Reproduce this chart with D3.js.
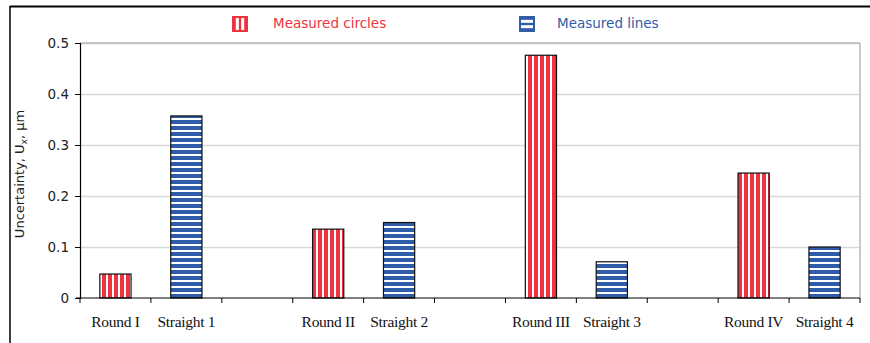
<!DOCTYPE html>
<html>
<head>
<meta charset="utf-8">
<script src="https://cdn.jsdelivr.net/npm/d3@7"></script>
<style>
  html, body { margin: 0; padding: 0; background: #fff; }
  svg { display: block; }
</style>
</head>
<body>
<svg id="chart" width="870" height="343"></svg>
<script>
// Category slots along the x axis (empty strings are spacer slots between groups)
const categories = ["Round I", "Straight 1", "", "Round II", "Straight 2", "",
                    "Round III", "Straight 3", "", "Round IV", "Straight 4"];
// Uncertainty values per slot, in µm
const circleValues = [0.047, null, null, 0.135, null, null, 0.476, null, null, 0.245, null];
const lineValues   = [null, 0.357, null, null, 0.148, null, null, 0.071, null, null, 0.100];
const yTicks = [0, 0.1, 0.2, 0.3, 0.4, 0.5];
const seriesNames = ["Measured circles", "Measured lines"];

const RED = "#ef3340", BLUE = "#2f5ca8";

const svg = d3.select("#chart");
const defs = svg.append("defs");

// vertical red stripes
const pr = defs.append("pattern").attr("id", "stripesV")
  .attr("patternUnits", "userSpaceOnUse").attr("width", 6).attr("height", 6);
pr.append("rect").attr("width", 6).attr("height", 6).attr("fill", "#fff");
pr.append("rect").attr("x", 0).attr("width", 4).attr("height", 6).attr("fill", RED);

// horizontal blue stripes
const pb = defs.append("pattern").attr("id", "stripesH")
  .attr("patternUnits", "userSpaceOnUse").attr("width", 6).attr("height", 6);
pb.append("rect").attr("width", 6).attr("height", 6).attr("fill", "#fff");
pb.append("rect").attr("y", 0).attr("width", 6).attr("height", 4).attr("fill", BLUE);

// outer frame (top and left rules)
svg.append("line").attr("x1", 10).attr("x2", 870).attr("y1", 6.5).attr("y2", 6.5)
  .attr("stroke", "#000").attr("stroke-width", 2);
svg.append("line").attr("x1", 10).attr("x2", 10).attr("y1", 6).attr("y2", 343)
  .attr("stroke", "#000").attr("stroke-width", 1.5);

const plot = { left: 80, right: 860, top: 43, bottom: 298 };

const x = d3.scaleBand().domain(d3.range(categories.length))
  .range([plot.left, plot.right]).paddingInner(0).paddingOuter(0);
const y = d3.scaleLinear().domain([0, 0.5]).range([plot.bottom, plot.top]);

// gridlines
svg.append("g").selectAll("line").data(yTicks.filter(t => t > 0)).join("line")
  .attr("x1", plot.left).attr("x2", plot.right)
  .attr("y1", d => Math.round(y(d)) + 0.5).attr("y2", d => Math.round(y(d)) + 0.5)
  .attr("stroke", "#d8d8d8").attr("stroke-width", 1.5);
// plot area border (top and right)
svg.append("line").attr("x1", plot.right).attr("x2", plot.right)
  .attr("y1", plot.top).attr("y2", plot.bottom)
  .attr("stroke", "#b8b8b8").attr("stroke-width", 1.5);
svg.append("line").attr("x1", plot.left).attr("x2", plot.right)
  .attr("y1", plot.top).attr("y2", plot.top)
  .attr("stroke", "#b8b8b8").attr("stroke-width", 1.5);

const barW = x.bandwidth() * 0.44;

function drawBars(values, fill) {
  const data = values.map((v, i) => ({ i, v })).filter(d => d.v != null);
  svg.append("g").selectAll("rect").data(data).join("rect")
    .attr("x", d => x(d.i) + (x.bandwidth() - barW) / 2)
    .attr("width", barW)
    .attr("y", d => y(d.v))
    .attr("height", d => y(0) - y(d.v))
    .attr("fill", fill)
    .attr("stroke", "#111").attr("stroke-width", 1.2);
}
drawBars(circleValues, "url(#stripesV)");
drawBars(lineValues, "url(#stripesH)");

// y axis
const yAxis = svg.append("g").attr("transform", `translate(${plot.left},0)`)
  .call(d3.axisLeft(y).tickValues(yTicks).tickSize(5).tickPadding(6)
    .tickFormat(d => d === 0 ? "0" : d3.format(".1f")(d)));
yAxis.select(".domain").attr("stroke", "#000").attr("stroke-width", 1.2);
yAxis.selectAll(".tick line").attr("stroke", "#000");
yAxis.selectAll("text").attr("font-family", "DejaVu Sans, sans-serif")
  .attr("font-size", 13.5).attr("fill", "#222");

// x axis with ticks at slot boundaries
const xAxisG = svg.append("g").attr("transform", `translate(0,${plot.bottom})`);
xAxisG.append("line").attr("x1", plot.left - 4).attr("x2", plot.right)
  .attr("stroke", "#000").attr("stroke-width", 1.2);
const bounds = d3.range(categories.length + 1).map(i => i < categories.length ? x(i) : plot.right);
xAxisG.selectAll("line.tk").data(bounds).join("line").attr("class", "tk")
  .attr("x1", d => d).attr("x2", d => d).attr("y1", 0).attr("y2", 5)
  .attr("stroke", "#000");
xAxisG.selectAll("text").data(categories.map((c, i) => ({ c, i })).filter(d => d.c))
  .join("text")
  .attr("x", d => x(d.i) + x.bandwidth() / 2)
  .attr("y", 29)
  .attr("text-anchor", "middle")
  .attr("font-family", "Liberation Serif, Times New Roman, serif")
  .attr("font-size", 15.5).attr("fill", "#111")
  .attr("letter-spacing", -0.3)
  .text(d => d.c);

// y axis title
const yt = svg.append("text")
  .attr("transform", "translate(24,174) rotate(-90)")
  .attr("text-anchor", "middle")
  .attr("font-family", "DejaVu Sans, sans-serif")
  .attr("font-size", 13).attr("fill", "#222");
yt.append("tspan").text("Uncertainty, U");
yt.append("tspan").attr("font-size", 9).attr("dy", 3).text("x");
yt.append("tspan").attr("dy", -3).text(", µm");

// legend
const legend = [
  { name: seriesNames[0], color: RED, x: 232, textX: 273, kind: "v" },
  { name: seriesNames[1], color: BLUE, x: 519, textX: 557, kind: "h" }
];
const lg = svg.append("g").selectAll("g").data(legend).join("g");
lg.append("rect").attr("x", d => d.x).attr("y", 16).attr("width", 16).attr("height", 16)
  .attr("fill", d => d.color);
// white bars inside each swatch
lg.each(function (d) {
  const g = d3.select(this);
  [1 / 3, 2 / 3].forEach(f => {
    if (d.kind === "v") {
      g.append("rect").attr("x", d.x + 16 * f - 1.5).attr("y", 18).attr("width", 3).attr("height", 12).attr("fill", "#fff");
    } else {
      g.append("rect").attr("x", d.x + 2).attr("y", 16 + 16 * f - 1.5).attr("width", 12).attr("height", 3).attr("fill", "#fff");
    }
  });
});
lg.append("text").attr("x", d => d.textX).attr("y", 27.5)
  .attr("font-family", "DejaVu Sans, sans-serif").attr("font-size", 13.5)
  .attr("fill", d => d.color).text(d => d.name);
</script>
</body>
</html>
